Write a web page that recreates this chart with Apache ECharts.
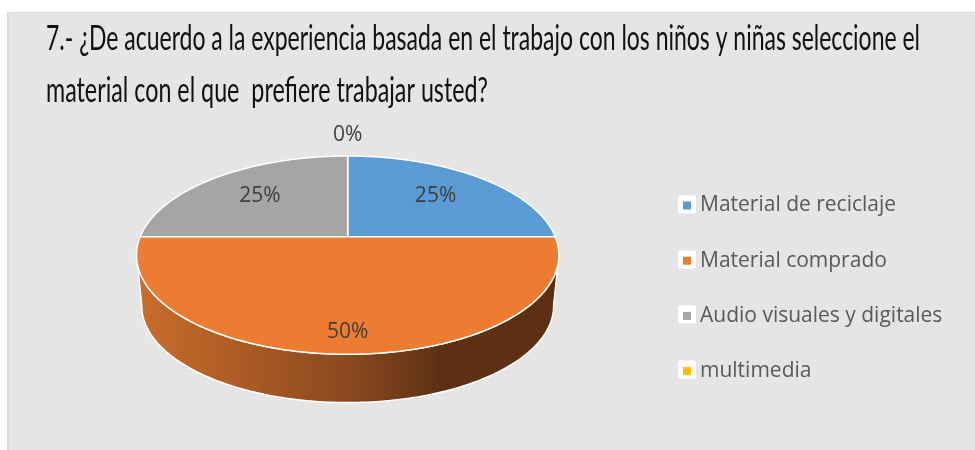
<!DOCTYPE html>
<html><head><meta charset="utf-8">
<style>html,body{margin:0;padding:0;background:#fff}#c{width:975px;height:450px}</style>
<script src="https://cdn.jsdelivr.net/npm/echarts@6/dist/echarts.min.js"></script>
</head><body><div id="c"></div>
<script>
const categories = ['Material de reciclaje','Material comprado','Audio visuales y digitales','multimedia'];
const values = [25, 50, 25, 0];
const colors = ['#5b9bd5','#eb7c31','#a5a5a5','#ffc000'];
const titleLines = ['7.- ¿De acuerdo a la experiencia basada en el trabajo con los niños y niñas seleccione el','material con el que  prefiere trabajar usted?'];

const total = values.reduce((a,b)=>a+b,0);
const CX=347.7, CY=236.7, A=207.5, B=95.7, K=0.186, DROP=51.3, SHRINK=0.975;
function proj(deg,r,lower){
  const t=deg*Math.PI/180, u=r*Math.sin(t), v=r*Math.cos(t), d=1+K*v, s=lower?SHRINK:1;
  return [CX+s*A*u/d, CY+(lower?DROP:0)-s*B*v/d];
}
function arc(a0,a1,lower){
  const pts=[], n=Math.max(2,Math.ceil(Math.abs(a1-a0)));
  for(let i=0;i<=n;i++) pts.push(proj(a0+(a1-a0)*i/n,1,lower));
  return pts;
}
function extremes(){
  let r=0,l=0,mx=-1e9,mn=1e9;
  for(let a=0;a<360;a+=0.5){const x=proj(a,1)[0]; if(x>mx){mx=x;r=a} if(x<mn){mn=x;l=a}}
  return [r,l];
}
const [angR,angL]=extremes();
const wallFill={type:'linear',x:140,y:0,x2:555,y2:0,global:true,colorStops:[
  {offset:0,color:'#c96c2b'},{offset:.25,color:'#aa5b24'},{offset:.5,color:'#8a491e'},
  {offset:.72,color:'#5e3013'},{offset:1,color:'#5e3013'}]};

function renderItem(params,api){
  const i=params.seriesIndex, val=api.value(0);
  const a0=values.slice(0,i).reduce((a,b)=>a+b,0)/total*360, a1=a0+val/total*360;
  const children=[];
  if(val>0){
    const s=Math.max(a0,angR), e=Math.min(a1,angL);
    if(e>s){
      children.push({type:'polygon',shape:{points:arc(s,e,false).concat(arc(e,s,true))},
        style:{fill:wallFill,stroke:'#fff',lineWidth:1.5}});
    }
    children.push({type:'polygon',shape:{points:[[CX,CY]].concat(arc(a0,a1,false))},
      style:{fill:api.visual('color'),stroke:'#fff',lineWidth:1.5,lineJoin:'round'}});
  }
  const mid=(a0+a1)/2;
  const rad=val===0?1.32:(val>=50?0.84:0.65);
  const p=proj(mid,rad);
  children.push({type:'text',z2:100,style:{x:p[0],y:p[1],text:Math.round(val/total*100)+'%',
    fill:'#404040',font:'21px "Open Sans"',align:'center',verticalAlign:'middle'}});
  return {type:'group',children};
}

// condensed heading: each line is squeezed to the width it has in the reference
const TITLE_FONT='34px Lato';
const titleWidths=[874,442];
const mc=document.createElement('canvas').getContext('2d');
mc.font=TITLE_FONT;
const titleScale=titleLines.map((t,i)=>titleWidths[i]/mc.measureText(t).width);

const LEGEND_ROW0=204.6, LEGEND_STEP=55;
const chart=echarts.init(document.getElementById('c'),null,{renderer:'canvas'});
chart.setOption({
  animation:false,
  backgroundColor:'#fff',
  graphic:[
    {type:'rect',z:-10,shape:{x:7,y:12,width:968,height:438},style:{fill:'#d9d9d9'}},
    {type:'rect',z:-9,shape:{x:9,y:13,width:966,height:437},style:{fill:'#e5e5e5'}}
  ].concat(categories.map((n,i)=>({type:'rect',z:-8,
    shape:{x:678,y:LEGEND_ROW0+i*LEGEND_STEP-9,width:18,height:18,r:2},style:{fill:'#fff'}})))
   .concat(titleLines.map((t,i)=>({type:'text',z:5,x:46,y:56+i*52,scaleX:titleScale[i],
    style:{text:t,font:TITLE_FONT,fill:'#111',textVerticalAlign:'bottom',verticalAlign:'alphabetic'}}))),
  legend:{orient:'vertical',left:683,top:195,padding:0,itemWidth:8,itemHeight:8,itemGap:34.2,
    data:categories.map(n=>({name:n,icon:'rect'})),
    textStyle:{fontFamily:'"Open Sans"',fontSize:21,color:'#595959',padding:[0,0,0,4]}},
  series:categories.map((n,i)=>({
    type:'custom',name:n,coordinateSystem:'none',renderItem,silent:true,
    itemStyle:{color:colors[i]},data:[[values[i]]],z:i===1?3:2
  }))
});
</script></body></html>
